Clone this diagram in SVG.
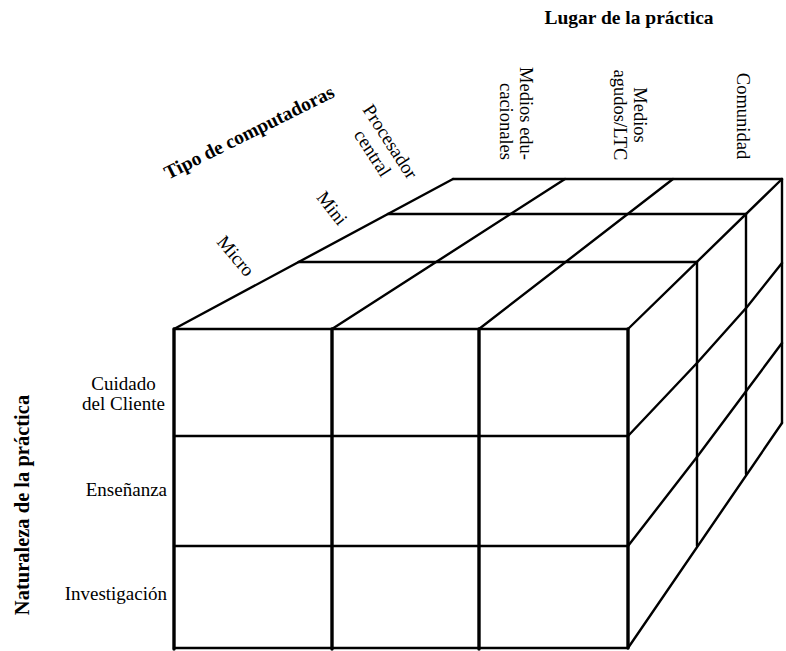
<svg xmlns="http://www.w3.org/2000/svg" width="786" height="651" viewBox="0 0 786 651">
  <style>
    .e { fill: none; stroke: #000; stroke-width: 2.4; stroke-linejoin: miter; stroke-linecap: round; }
    .v { fill: none; stroke: #000; stroke-width: 3.4; stroke-linecap: round; }
    .lbl { font-family: "Liberation Serif", "Times New Roman", serif; font-size: 19px; fill: #000; }
    .col { font-family: "Liberation Serif", "Times New Roman", serif; font-size: 18.5px; fill: #000; }
    .ttl { font-family: "Liberation Serif", "Times New Roman", serif; font-size: 19.5px; font-weight: bold; fill: #000; }
  </style>
  <rect x="0" y="0" width="786" height="651" fill="#fff"/>

  <!-- 3 x 3 x 3 cube -->
  <g id="cube">
    <!-- front face -->
    <g id="front-face">
      <path class="e" d="M174,329 H628 M174,436 H628 M174,546 H628 M174,648 H628"/>
      <path class="v" d="M174,329 V649 M332,329 V649 M479,329 V649 M628,329 V648"/>
    </g>
    <!-- top face -->
    <g id="top-face">
      <path class="e" d="M174,329 L453,179 M332,329 L565,179 M479,329 L673,179 M628,329 L782,179"/>
      <path class="e" d="M298.6,262 H697 M387.9,214 H746 M453,179 H782"/>
    </g>
    <!-- right face -->
    <g id="right-face">
      <path class="e" d="M697,262 V546 M746,214 V474 M782,179 V423"/>
      <path class="e" d="M628,648 L782,423"/>
      <path class="e" d="M628,436 L697,363 L747,307 L782,263"/>
      <path class="e" d="M628,546 L697,457 L747,390 L782,343"/>
    </g>
  </g>

  <!-- axis titles -->
  <g id="axis-titles">
    <text class="ttl" x="629" y="24" text-anchor="middle">Lugar de la práctica</text>
    <text class="ttl" transform="translate(252,138) rotate(-26.5)" text-anchor="middle">Tipo de computadoras</text>
    <text class="ttl" transform="translate(29,505) rotate(-90)" text-anchor="middle" style="font-size:20.5px">Naturaleza de la práctica</text>
  </g>

  <!-- computer type labels along the top-left edge -->
  <g id="computer-labels">
    <g transform="translate(385,145) rotate(57)">
      <text class="lbl" x="0" y="0" text-anchor="middle">Procesador</text>
      <text class="lbl" x="0" y="21" text-anchor="middle">central</text>
    </g>
    <text class="lbl" transform="translate(327,212) rotate(52)" text-anchor="middle">Mini</text>
    <text class="lbl" transform="translate(231,260) rotate(50)" text-anchor="middle">Micro</text>
  </g>

  <!-- practice setting labels -->
  <g id="setting-labels">
    <g transform="translate(520,160) rotate(90)">
      <text class="col" x="0" y="0" text-anchor="end">Medios edu-</text>
      <text class="col" x="0" y="20" text-anchor="end">cacionales</text>
    </g>
    <g transform="translate(634,115) rotate(90)">
      <text class="col" x="0" y="0" text-anchor="middle">Medios</text>
      <text class="col" x="0" y="20" text-anchor="middle">agudos/LTC</text>
    </g>
    <text class="col" transform="translate(737,116) rotate(90)" text-anchor="middle">Comunidad</text>
  </g>

  <!-- practice type labels -->
  <g id="practice-labels">
    <text class="lbl" x="123.5" y="390" text-anchor="middle">Cuidado</text>
    <text class="lbl" x="123.5" y="410" text-anchor="middle">del Cliente</text>
    <text class="lbl" x="167" y="496" text-anchor="end">Enseñanza</text>
    <text class="lbl" x="167" y="600" text-anchor="end">Investigación</text>
  </g>
</svg>
